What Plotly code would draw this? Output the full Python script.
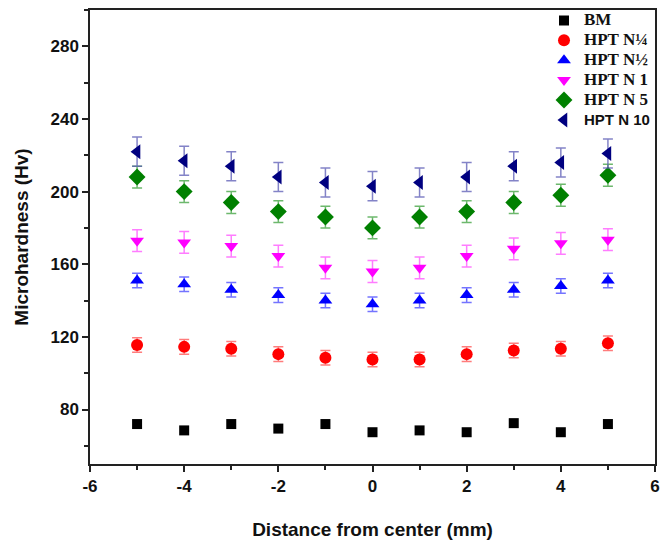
import plotly.graph_objects as go

distance = [-5, -4, -3, -2, -1, 0, 1, 2, 3, 4, 5]

bm = [72, 68.5, 72, 69.5, 72, 67.5, 68.5, 67.5, 72.5, 67.5, 72]
n_quarter = [115.5, 114.5, 113.5, 110.5, 108.5, 107.5, 107.5, 110.5, 112.5, 113.5, 116.5]
n_half = [151, 149, 146, 143, 140, 138, 140, 143, 146, 148, 151]
n_1 = [173, 172, 170, 164.5, 158, 156, 158, 164.5, 168.5, 171.5, 173.5]
n_5 = [208, 200, 194, 189, 186, 180, 186, 189, 194, 198, 209]
n_10 = [222, 217, 214, 208, 205, 203, 205, 208, 214, 216, 221]

err_quarter = [4] * 11
err_half = [4] * 11
err_1 = [6] * 11
err_5 = [6] * 11
err_10 = [8] * 11

x_tick_vals = [-6, -4, -2, 0, 2, 4, 6]
x_tick_text = ["-6", "-4", "-2", "0", "2", "4", "6"]
y_tick_vals = [80, 120, 160, 200, 240, 280]
y_tick_text = ["80", "120", "160", "200", "240", "280"]

SERIF = "font-family:Liberation Serif, Times New Roman; font-size:17px"
SANS = "font-family:Liberation Sans, Arial; font-size:15px"

series = [
    (f"<span style='{SERIF}'><b>BM</b></span>", bm, None, "square", "#000000", "rgba(0,0,0,0.5)", 10),
    (f"<span style='{SERIF}'><b>HPT N¼</b></span>", n_quarter, err_quarter, "circle", "#ff0000", "rgba(255,80,80,0.75)", 12),
    (f"<span style='{SERIF}'><b>HPT N½</b></span>", n_half, err_half, "triangle-up", "#0000ff", "rgba(70,70,255,0.75)", 12),
    (f"<span style='{SERIF}'><b>HPT N 1</b></span>", n_1, err_1, "triangle-down", "#ff00ff", "rgba(255,80,255,0.75)", 12),
    (f"<span style='{SERIF}'><b>HPT N 5</b></span>", n_5, err_5, "diamond", "#008000", "rgba(60,160,60,0.75)", 13),
    (f"<span style='{SANS}'><b>HPT N 10</b></span>", n_10, err_10,
     "triangle-left", "#000080", "rgba(90,90,180,0.75)", 13),
]

fig = go.Figure()
for name, ys, errs, sym, col, ecol, size in series:
    kw = {}
    if errs is not None:
        kw["error_y"] = dict(type="data", array=errs, visible=True, color=ecol,
                             thickness=1.5, width=5)
    fig.add_trace(go.Scatter(
        x=distance, y=ys, mode="markers", name=name,
        marker=dict(symbol=sym, color=col, size=size, line=dict(width=0)),
        **kw))

axis_common = dict(
    showline=True, linecolor="#222222", linewidth=1.5, mirror=True,
    ticks="outside", ticklen=6, tickwidth=1.5, tickcolor="#222222",
    showgrid=False, zeroline=False,
    tickfont=dict(family="Liberation Sans, Arial", size=17, color="#111111", weight="bold"),
)

fig.update_xaxes(
    range=[-6, 6], tickmode="array", tickvals=x_tick_vals, ticktext=x_tick_text,
    minor=dict(dtick=1, tick0=0, ticks="outside", ticklen=4, tickwidth=1.5, tickcolor="#222222"),
    title=dict(text="<b>Distance from center (mm)</b>", standoff=28,
               font=dict(family="Liberation Sans, Arial", size=19, color="#111111")),
    **axis_common)
fig.update_yaxes(
    range=[50, 300], tickmode="array", tickvals=y_tick_vals, ticktext=y_tick_text,
    minor=dict(dtick=20, tick0=0, ticks="outside", ticklen=4, tickwidth=1.5, tickcolor="#222222"),
    title=dict(text="<b>Microhardness (Hv)</b>", standoff=17,
               font=dict(family="Liberation Sans, Arial", size=19, color="#111111")),
    **axis_common)

fig.update_layout(
    width=669, height=545,
    margin=dict(l=90, r=14, t=5, b=81),
    plot_bgcolor="white", paper_bgcolor="white",
    showlegend=True,
    legend=dict(x=1.0, y=1.01, xanchor="right", yanchor="top",
                bgcolor="rgba(0,0,0,0)", borderwidth=0,
                font=dict(family="Liberation Serif, Times New Roman", size=13, color="#111111"),
                itemwidth=30, tracegroupgap=0),
)

fig.write_html("out.html")
